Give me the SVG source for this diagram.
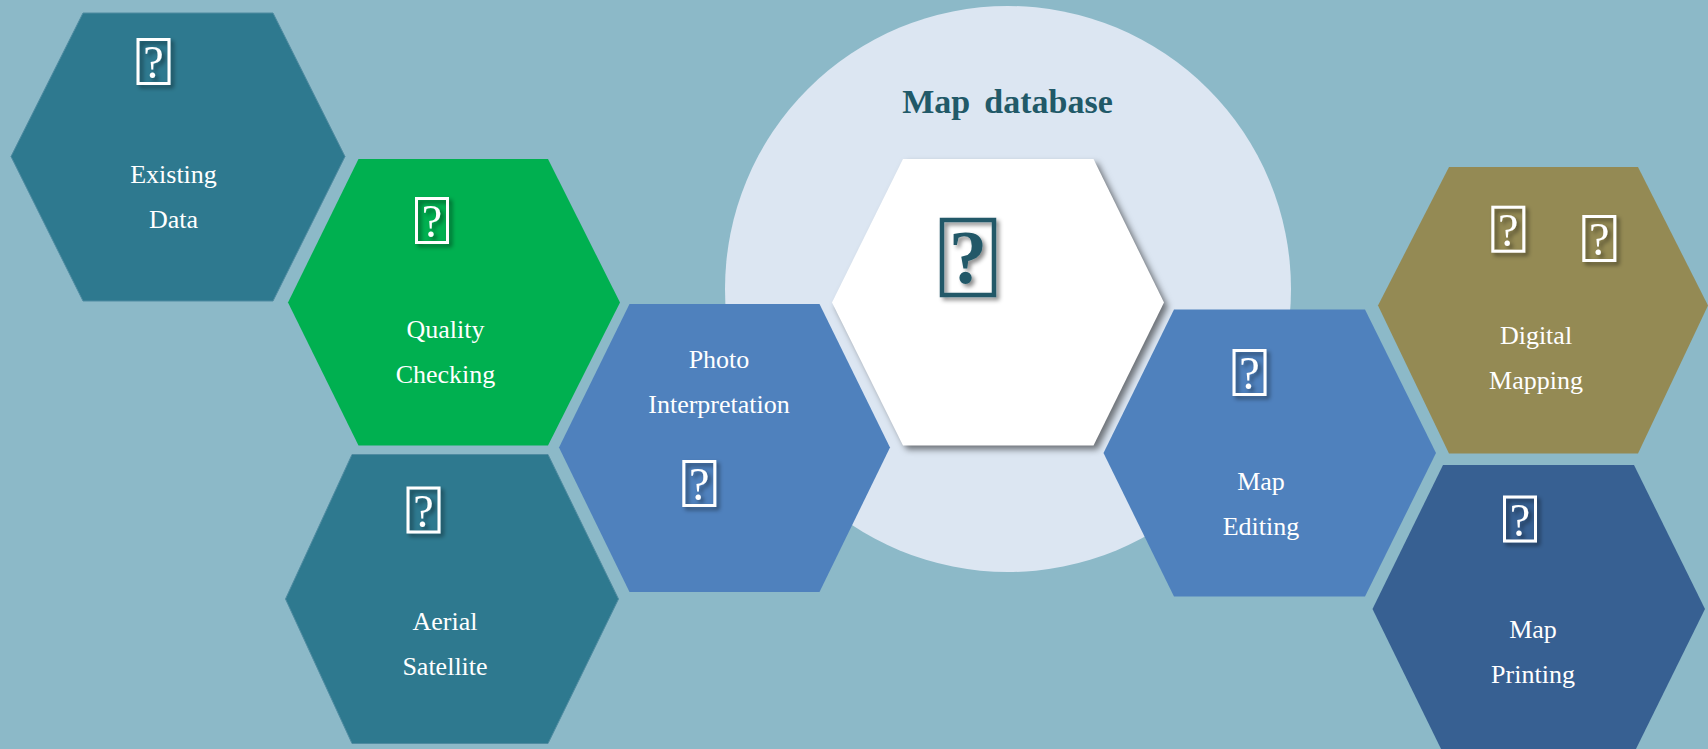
<svg xmlns="http://www.w3.org/2000/svg" width="1708" height="749" viewBox="0 0 1708 749">
<style>
.lbl{font-family:"Liberation Serif","DejaVu Serif",serif;font-size:26px;fill:#fff;text-anchor:middle}
.qb{fill:none;stroke:#fff;stroke-width:3}
.qt{font-family:"Liberation Serif","DejaVu Serif",serif;font-size:46px;fill:#fff;text-anchor:middle}
.teal{fill:#2e798f;stroke:#4f8ba1;stroke-width:1}
.blue{fill:#4f81bd}
</style>
<defs>
<filter id="sh" x="-30%" y="-30%" width="170%" height="170%"><feDropShadow dx="3" dy="3" stdDeviation="2" flood-color="#000" flood-opacity="0.45"/></filter>
</defs>
<rect id="background" width="1708" height="749" fill="#8cb9c8"/>
<g id="connectors"/>
<g id="map-database">
<circle cx="1008" cy="289" r="283" fill="#dce6f2"/>
<text x="1007.500" y="113" font-family="'Liberation Serif','DejaVu Serif',serif" font-size="34" font-weight="700" fill="#215968" text-anchor="middle" word-spacing="5.500">Map database</text>
<polygon points="903,159 1093.500,159 1164,302.500 1093.500,445.500 903,445.500 832,302.500" fill="#fff" style="filter:drop-shadow(4px 4px 3px rgba(0,0,0,.5))"/>
<g filter="url(#sh)"><rect x="942" y="220" width="52" height="75" fill="none" stroke="#215968" stroke-width="4.500"/>
<text x="968" y="283" font-family="'Liberation Serif','DejaVu Serif',serif" font-size="76" font-weight="700" fill="#215968" text-anchor="middle">?</text></g>
</g>
<g id="existing-data">
<polygon class="teal" points="83,13 273,13 345,156.500 273,301 83,301 11,156.500"/>
<g filter="url(#sh)"><rect class="qb" x="138" y="39.500" width="31" height="44"/><text class="qt" x="153.500" y="78">?</text></g>
<text class="lbl" x="173.500" y="183">Existing</text><text class="lbl" x="173.500" y="228">Data</text>
</g>
<g id="quality-checking">
<polygon fill="#00b050" points="358.500,159 548,159 620,302.500 548,445.500 358.500,445.500 288,302.500"/>
<g filter="url(#sh)"><rect class="qb" x="416.500" y="198.500" width="31" height="44"/><text class="qt" x="432" y="237">?</text></g>
<text class="lbl" x="445.500" y="338">Quality</text><text class="lbl" x="445.500" y="383">Checking</text>
</g>
<g id="aerial-satellite">
<polygon class="teal" points="352,454.500 548,454.500 618.500,599 548,743.500 352,743.500 285.500,599"/>
<g filter="url(#sh)"><rect class="qb" x="408" y="488" width="31" height="44"/><text class="qt" x="423.500" y="526.500">?</text></g>
<text class="lbl" x="445" y="630">Aerial</text><text class="lbl" x="445" y="675">Satellite</text>
</g>
<g id="photo-interpretation">
<polygon class="blue" points="629.500,304 819.500,304 890,447.500 819.500,592 629.500,592 559,447.500"/>
<g filter="url(#sh)"><rect class="qb" x="683.800" y="461.500" width="31" height="44"/><text class="qt" x="699.300" y="500">?</text></g>
<text class="lbl" x="719" y="368">Photo</text><text class="lbl" x="719" y="413">Interpretation</text>
</g>
<g id="map-editing">
<polygon class="blue" points="1174,309.500 1365,309.500 1436,453 1365,596.500 1174,596.500 1103.500,453"/>
<g filter="url(#sh)"><rect class="qb" x="1234" y="350.500" width="31" height="44"/><text class="qt" x="1249.500" y="389">?</text></g>
<text class="lbl" x="1261" y="490">Map</text><text class="lbl" x="1261" y="535">Editing</text>
</g>
<g id="digital-mapping">
<polygon fill="#948a54" points="1449,167 1638,167 1708,305.500 1638,453.500 1449,453.500 1378,305.500"/>
<g filter="url(#sh)"><rect class="qb" x="1492.800" y="207.200" width="31" height="44"/><text class="qt" x="1508.300" y="245.700">?</text></g>
<g filter="url(#sh)"><rect class="qb" x="1583.800" y="216.500" width="31" height="44"/><text class="qt" x="1599.300" y="255">?</text></g>
<text class="lbl" x="1536" y="343.500">Digital</text><text class="lbl" x="1536" y="388.500">Mapping</text>
</g>
<g id="map-printing">
<polygon fill="#376092" points="1443,465 1634,465 1705,609 1634,753 1443,753 1372.500,609"/>
<g filter="url(#sh)"><rect class="qb" x="1504.500" y="497" width="31" height="44"/><text class="qt" x="1520" y="535.500">?</text></g>
<text class="lbl" x="1533" y="638">Map</text><text class="lbl" x="1533" y="683">Printing</text>
</g>
</svg>
